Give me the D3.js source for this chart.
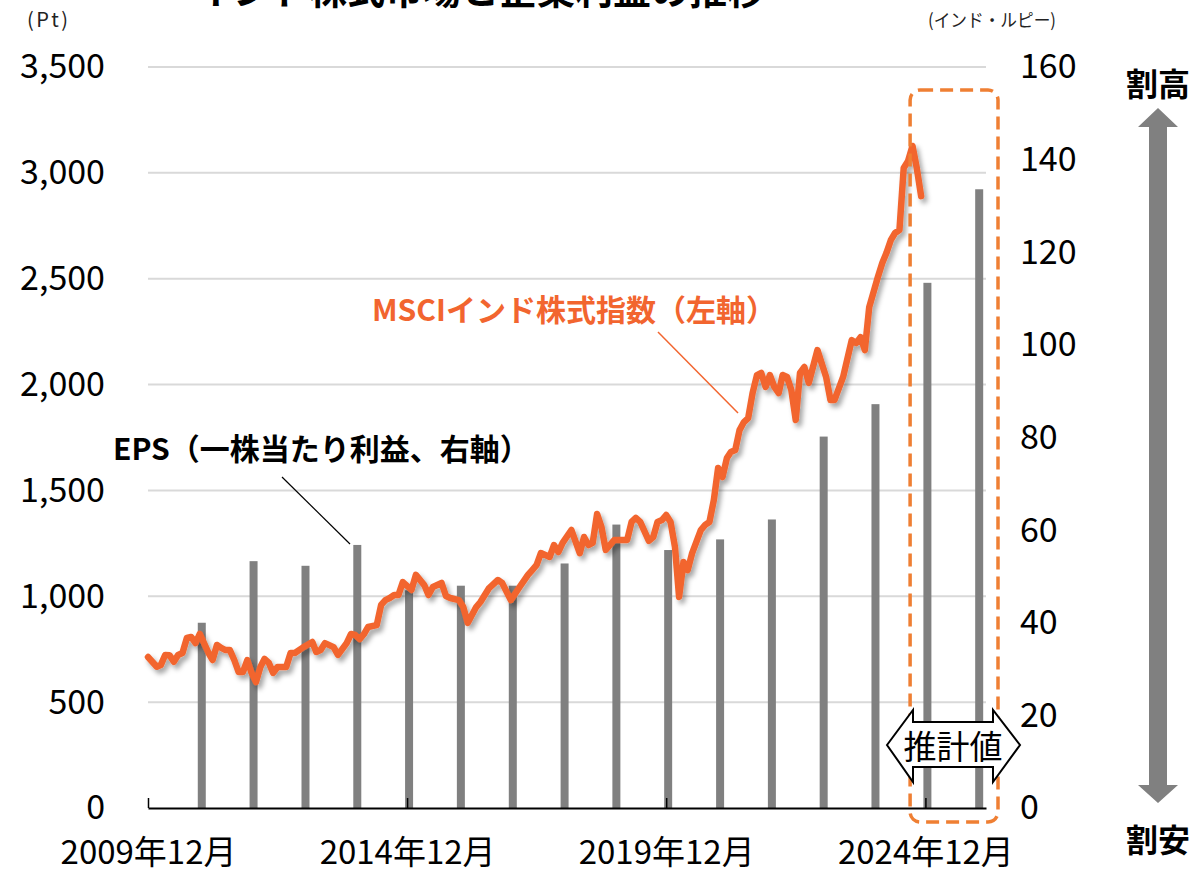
<!DOCTYPE html>
<html>
<head>
<meta charset="utf-8">
<script src="https://cdn.jsdelivr.net/npm/d3@7"></script>
<style>
  body { margin: 0; background: #fff; }
  svg { display: block; }
  text { font-family: "Noto Sans CJK JP", "Noto Sans", sans-serif; }
</style>
</head>
<body>
<div id="chart"></div>
<script>
// MSCIインド株式指数（月次、左軸）
var indexDates = [
  '2009-12',
  '2010-02', '2010-03', '2010-04', '2010-05', '2010-06', '2010-07', '2010-08', '2010-09', '2010-10', '2010-11', '2010-12',
  '2011-02', '2011-03', '2011-04', '2011-05', '2011-06', '2011-07', '2011-08', '2011-09', '2011-10', '2011-11', '2011-12',
  '2012-01', '2012-02', '2012-03', '2012-04', '2012-05', '2012-06', '2012-08', '2012-09', '2012-10', '2012-12',
  '2013-02', '2013-03', '2013-04', '2013-05', '2013-07', '2013-08', '2013-10', '2013-11', '2013-12',
  '2014-01', '2014-02', '2014-03', '2014-05', '2014-06', '2014-07', '2014-08', '2014-09', '2014-10', '2014-11',
  '2015-01', '2015-02', '2015-04', '2015-05', '2015-06', '2015-08', '2015-09', '2015-10', '2015-12',
  '2016-01', '2016-02', '2016-04', '2016-05', '2016-07', '2016-09', '2016-10', '2016-12',
  '2017-02', '2017-04', '2017-05', '2017-06', '2017-07', '2017-09', '2017-10', '2017-11', '2017-12',
  '2018-02', '2018-04', '2018-05', '2018-06', '2018-07', '2018-08', '2018-09', '2018-10', '2018-12',
  '2019-01', '2019-03', '2019-04', '2019-05', '2019-06', '2019-08', '2019-09', '2019-10', '2019-11', '2019-12',
  '2020-01', '2020-02', '2020-03', '2020-04', '2020-05', '2020-06', '2020-08', '2020-09', '2020-10', '2020-11', '2020-12',
  '2021-01', '2021-02', '2021-03', '2021-04', '2021-05', '2021-06', '2021-07', '2021-08', '2021-09', '2021-10', '2021-11', '2021-12',
  '2022-01', '2022-02', '2022-03', '2022-04', '2022-05', '2022-06', '2022-07', '2022-08', '2022-09', '2022-11',
  '2023-01', '2023-02', '2023-03', '2023-05', '2023-07', '2023-08', '2023-09', '2023-10', '2023-11',
  '2024-01', '2024-02', '2024-03', '2024-04', '2024-05', '2024-06', '2024-07', '2024-08', '2024-09', '2024-10', '2024-11'
];
var indexValues = [
  713,
  667, 675, 723, 722, 691, 723, 732, 803, 808, 779, 822,
  732, 699, 770, 756, 746, 746, 699, 642, 642, 699, 638,
  595, 666, 704, 685, 638, 666, 666, 732, 732, 760,
  784, 737, 746, 779, 760, 723, 779, 822, 817,
  798, 822, 855, 864, 959, 982, 992, 1006, 1006, 1067,
  1030, 1101, 1053, 1006, 1044, 1063, 1001, 992, 982,
  949, 874, 949, 973, 1039, 1077, 1063, 982,
  1044, 1101, 1124, 1148, 1204, 1186, 1242, 1209, 1252,
  1313, 1204, 1280, 1242, 1252, 1389, 1327, 1219, 1266,
  1266, 1266, 1351, 1370, 1351, 1262, 1280, 1351, 1360, 1384,
  1351, 1233, 997, 1162, 1124, 1204, 1313, 1337, 1351, 1455, 1606,
  1563, 1653, 1682, 1691, 1785, 1823, 1842, 1960, 2045, 2055, 1989, 2045,
  1989, 1960, 2045, 2036, 1974, 1833, 2055, 2083, 2008, 2163,
  2036, 1927, 1927, 2036, 2210, 2196, 2224, 2163, 2366,
  2508, 2574, 2621, 2682, 2716, 2730, 3023, 3056, 3127, 3023, 2890
];

// EPS（年次、右軸）2024・2025年は推計値
var epsYears = ['2010', '2011', '2012', '2013', '2014', '2015', '2016', '2017',
  '2018', '2019', '2020', '2021', '2022', '2023', '2024', '2025'];
var epsValues = [40.0, 53.3, 52.3, 56.8, 47.0, 48.0, 48.0, 52.8,
  61.2, 55.7, 58.0, 62.3, 80.2, 87.2, 113.4, 133.6];

var leftTicks = [0, 500, 1000, 1500, 2000, 2500, 3000, 3500];
var rightTicks = [0, 20, 40, 60, 80, 100, 120, 140, 160];
var xTickDates = ['2009-12', '2014-12', '2019-12', '2024-12'];

// 枠
var width = 1191;
var height = 874;
var plot = { left: 148, right: 986, top: 67, bottom: 808 };

var lineColor = '#f2652f';
var boxColor = '#ef7f33';
var barColor = '#808080';

var parseMonth = d3.timeParse('%Y-%m');

var series = indexDates.map(function(d, i) {
  return { date: parseMonth(d), value: indexValues[i] };
});
var eps = epsYears.map(function(y, i) {
  return { date: new Date(+y, 11, 15), value: epsValues[i] };
});

var xScale = d3.scaleTime()
  .domain([new Date(2009, 11, 1), new Date(2026, 1, 1)])
  .range([plot.left, plot.right]);
var yLeft = d3.scaleLinear().domain([0, 3500]).range([plot.bottom, plot.top]);
var yRight = d3.scaleLinear().domain([0, 160]).range([plot.bottom, plot.top]);

var svg = d3.select('#chart').append('svg')
  .attr('width', width)
  .attr('height', height);

// 線の影
var defs = svg.append('defs');
defs.append('filter')
  .attr('id', 'shadow')
  .attr('x', '-10%').attr('y', '-10%')
  .attr('width', '120%').attr('height', '120%')
  .append('feDropShadow')
  .attr('dx', 3).attr('dy', 4)
  .attr('stdDeviation', 2.5)
  .attr('flood-color', '#000')
  .attr('flood-opacity', 0.35);

// タイトル（上端で切れている）
svg.append('text')
  .attr('x', 195).attr('y', 4)
  .attr('font-size', 38).attr('font-weight', 700)
  .attr('fill', '#000')
  .text('インド株式市場と企業利益の推移');

// 単位
svg.append('text')
  .attr('x', 27).attr('y', 22)
  .attr('dominant-baseline', 'middle')
  .attr('font-size', 20).attr('fill', '#222')
  .attr('textLength', 41).attr('lengthAdjust', 'spacing')
  .text('(Pt)');
svg.append('text')
  .attr('x', 928).attr('y', 22)
  .attr('dominant-baseline', 'middle')
  .attr('font-size', 18).attr('fill', '#222')
  .attr('textLength', 128).attr('lengthAdjust', 'spacingAndGlyphs')
  .text('(インド・ルピー)');

// グリッド
svg.append('g').selectAll('line')
  .data(leftTicks.slice(1))
  .enter().append('line')
  .attr('x1', plot.left).attr('x2', plot.right)
  .attr('y1', function(d) { return yLeft(d); })
  .attr('y2', function(d) { return yLeft(d); })
  .attr('stroke', '#d9d9d9')
  .attr('stroke-width', 2);

// EPSの棒
svg.append('g').selectAll('rect')
  .data(eps)
  .enter().append('rect')
  .attr('x', function(d) { return xScale(d.date) - 4; })
  .attr('width', 8)
  .attr('y', function(d) { return yRight(d.value); })
  .attr('height', function(d) { return plot.bottom - yRight(d.value); })
  .attr('fill', barColor);

// 指数の線
var line = d3.line()
  .x(function(d) { return xScale(d.date); })
  .y(function(d) { return yLeft(d.value); });

svg.append('path')
  .datum(series)
  .attr('d', line)
  .attr('fill', 'none')
  .attr('stroke', lineColor)
  .attr('stroke-width', 6.5)
  .attr('stroke-linejoin', 'round')
  .attr('stroke-linecap', 'round')
  .attr('filter', 'url(#shadow)');

// x軸
var xaxis = d3.axisBottom(xScale)
  .tickValues(xTickDates.map(parseMonth))
  .tickSize(-10)
  .tickSizeOuter(0)
  .tickFormat(d3.timeFormat('%Y年%m月'));

var xg = svg.append('g')
  .attr('transform', 'translate(0,' + plot.bottom + ')')
  .call(xaxis);
xg.select('.domain').attr('stroke', '#000').attr('stroke-width', 2);
xg.selectAll('.tick line').attr('stroke', '#000').attr('stroke-width', 1.5);
xg.selectAll('.tick text')
  .attr('y', 56)
  .attr('dy', 0)
  .attr('font-size', 33)
  .attr('fill', '#000')
  .style('font-family', '"Noto Sans CJK JP", sans-serif');

// 左軸
var ylg = svg.append('g')
  .attr('transform', 'translate(' + plot.left + ',0)')
  .call(d3.axisLeft(yLeft).tickValues(leftTicks).tickSize(0).tickPadding(43).tickFormat(d3.format(',')));
ylg.select('.domain').remove();
ylg.selectAll('text')
  .attr('font-size', 34).attr('fill', '#000')
  .style('font-family', '"Noto Sans CJK JP", sans-serif');

// 右軸
var yrg = svg.append('g')
  .attr('transform', 'translate(' + plot.right + ',0)')
  .call(d3.axisRight(yRight).tickValues(rightTicks).tickSize(0).tickPadding(34));
yrg.select('.domain').remove();
yrg.selectAll('text')
  .attr('font-size', 34).attr('fill', '#000')
  .style('font-family', '"Noto Sans CJK JP", sans-serif');

// 推計値の枠
var boxLeft = xScale(new Date(2024, 7, 1)) + 2;
svg.append('rect')
  .attr('x', boxLeft).attr('y', 90)
  .attr('width', 998 - boxLeft).attr('height', 732)
  .attr('rx', 10).attr('ry', 10)
  .attr('fill', 'none')
  .attr('stroke', boxColor)
  .attr('stroke-width', 3.5)
  .attr('stroke-dasharray', '13,7');

// 推計値ラベル（両矢印）
var ax = 887, bx = 913, cx = 993, dx = 1020;
var cy = 745;
var arrowPts = [
  [ax, cy], [bx, 710], [bx, 722], [cx, 722], [cx, 710], [dx, cy],
  [cx, 782], [cx, 767], [bx, 767], [bx, 782]
];
svg.append('polygon')
  .attr('points', arrowPts.map(function(p) { return p.join(','); }).join(' '))
  .attr('fill', '#fff')
  .attr('stroke', '#000')
  .attr('stroke-width', 2)
  .attr('stroke-linejoin', 'miter');
svg.append('text')
  .attr('x', (bx + cx) / 2).attr('y', cy)
  .attr('text-anchor', 'middle')
  .attr('dominant-baseline', 'central')
  .attr('font-size', 33)
  .attr('fill', '#000')
  .text('推計値');

// 系列ラベル
svg.append('text')
  .attr('x', 372).attr('y', 308)
  .attr('dominant-baseline', 'central')
  .attr('font-size', 30).attr('font-weight', 700)
  .attr('fill', lineColor)
  .text('MSCIインド株式指数（左軸）');
svg.append('line')
  .attr('x1', 658).attr('y1', 332).attr('x2', 738).attr('y2', 413)
  .attr('stroke', lineColor).attr('stroke-width', 1.5);

svg.append('text')
  .attr('x', 113).attr('y', 447)
  .attr('dominant-baseline', 'central')
  .attr('font-size', 30).attr('font-weight', 700)
  .attr('fill', '#000')
  .text('EPS（一株当たり利益、右軸）');
svg.append('line')
  .attr('x1', 282).attr('y1', 477).attr('x2', 350).attr('y2', 544)
  .attr('stroke', '#000').attr('stroke-width', 1.2);

// 割高・割安の矢印
var mx = 1158;
var vArrow = [
  [mx, 108], [mx + 20, 127], [mx + 9, 127], [mx + 9, 785], [mx + 20, 785],
  [mx, 803], [mx - 20, 785], [mx - 9, 785], [mx - 9, 127], [mx - 20, 127]
];
svg.append('polygon')
  .attr('points', vArrow.map(function(p) { return p.join(','); }).join(' '))
  .attr('fill', barColor);
svg.append('text')
  .attr('x', mx).attr('y', 82)
  .attr('text-anchor', 'middle').attr('dominant-baseline', 'central')
  .attr('font-size', 32).attr('font-weight', 700)
  .text('割高');
svg.append('text')
  .attr('x', mx).attr('y', 838)
  .attr('text-anchor', 'middle').attr('dominant-baseline', 'central')
  .attr('font-size', 32).attr('font-weight', 700)
  .text('割安');
</script>
</body>
</html>
